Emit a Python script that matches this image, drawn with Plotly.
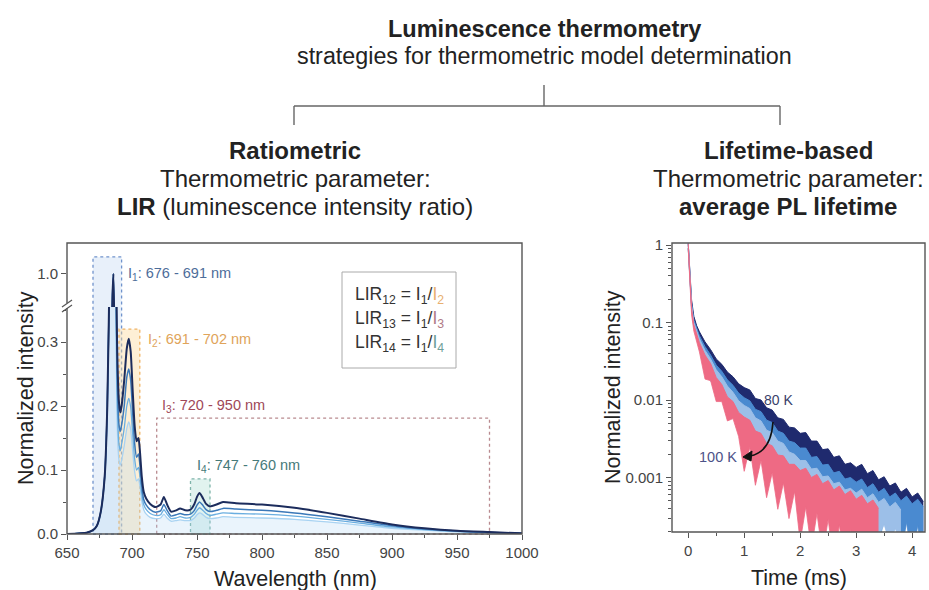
import numpy as np
import plotly.graph_objects as go

W, H = 929, 590
FONT = "Liberation Sans, Arial, sans-serif"

# ---------------- emission spectra (normalized) ----------------
wavelength = [650, 665, 670, 673, 676, 679, 681, 683, 684, 685, 685.7, 686.5, 687.5, 688.5, 690, 691,
              692, 694, 696, 697.5, 699, 700.5, 702, 703.5, 705, 706, 707.5, 709, 711, 714, 718, 722,
              724.5, 727, 730, 734, 737, 741, 745, 748, 750, 752, 754, 757, 760, 765, 770, 780, 800,
              825, 850, 875, 900, 925, 950, 975, 1000]
spec_a = [0.0, 0.002, 0.006, 0.013, 0.035, 0.09, 0.2, 0.45, 0.7, 0.93,
          1.0, 0.82, 0.5, 0.3, 0.205, 0.19, 0.2, 0.24, 0.29, 0.305,
          0.285, 0.225, 0.17, 0.145, 0.15, 0.132, 0.09, 0.066, 0.055, 0.047,
          0.042, 0.046, 0.058, 0.046, 0.035, 0.037, 0.04, 0.037, 0.038, 0.047,
          0.058, 0.064, 0.058, 0.047, 0.043, 0.046, 0.05, 0.048, 0.046, 0.041,
          0.033, 0.024, 0.015, 0.009, 0.005, 0.003, 0.001]
spec_b = [0.0, 0.002, 0.006, 0.013, 0.035, 0.09, 0.2, 0.45, 0.7, 0.93,
          1.0, 0.8, 0.46, 0.26, 0.17, 0.16, 0.17, 0.2, 0.245, 0.258,
          0.24, 0.19, 0.142, 0.12, 0.125, 0.11, 0.075, 0.054, 0.045, 0.038,
          0.034, 0.036, 0.046, 0.037, 0.028, 0.03, 0.032, 0.03, 0.031, 0.037,
          0.045, 0.05, 0.046, 0.038, 0.035, 0.037, 0.04, 0.039, 0.037, 0.033,
          0.027, 0.02, 0.013, 0.008, 0.0045, 0.0025, 0.001]
spec_c = [0.0, 0.002, 0.006, 0.013, 0.035, 0.09, 0.2, 0.45, 0.7, 0.93,
          1.0, 0.78, 0.42, 0.22, 0.14, 0.13, 0.14, 0.165, 0.2, 0.212,
          0.198, 0.157, 0.118, 0.1, 0.104, 0.092, 0.063, 0.046, 0.038, 0.032,
          0.029, 0.03, 0.038, 0.031, 0.024, 0.025, 0.027, 0.025, 0.026, 0.031,
          0.037, 0.041, 0.038, 0.032, 0.029, 0.031, 0.033, 0.032, 0.031, 0.028,
          0.023, 0.017, 0.011, 0.007, 0.004, 0.002, 0.001]
spec_d = [0.0, 0.002, 0.006, 0.013, 0.035, 0.09, 0.2, 0.45, 0.7, 0.93,
          1.0, 0.76, 0.38, 0.18, 0.115, 0.108, 0.115, 0.138, 0.165, 0.175,
          0.163, 0.13, 0.098, 0.083, 0.086, 0.076, 0.052, 0.038, 0.031, 0.026,
          0.024, 0.025, 0.031, 0.025, 0.02, 0.021, 0.022, 0.021, 0.021, 0.025,
          0.03, 0.033, 0.031, 0.026, 0.024, 0.025, 0.027, 0.026, 0.025, 0.023,
          0.019, 0.014, 0.009, 0.006, 0.0035, 0.002, 0.001]
spec_colors = ["#a9d3f2", "#6aaee0", "#3b78b8", "#1c2c5c"]

# integration windows
band_labels = ["I<sub>1</sub>: 676 - 691 nm", "I<sub>2</sub>: 691 - 702 nm",
               "I<sub>3</sub>: 720 - 950 nm", "I<sub>4</sub>: 747 - 760 nm"]
band_start = [670, 690, 719, 745]
band_end = [692, 706, 975, 760]
band_top = [1.055, 0.32, 0.181, 0.086]
band_line = ["#7093cc", "#f0b262", "#b98a8f", "#7fb4aa"]
band_fill = ["rgba(190,212,242,0.35)", "rgba(252,214,150,0.40)", "rgba(0,0,0,0)", "rgba(180,226,214,0.40)"]
band_text = ["#4d6d9a", "#e0a45a", "#a04858", "#467a7a"]

# ---------------- PL decays: noise envelopes, log10 of normalized intensity ----------------
t_ms = [0, 0.01, 0.03, 0.06, 0.1, 0.15, 0.2, 0.3, 0.4, 0.5, 0.6, 0.7, 0.8, 0.9, 1.0, 1.1, 1.2,
        1.3, 1.4, 1.5, 1.6, 1.7, 1.8, 1.9, 2.0, 2.1, 2.2, 2.3, 2.4, 2.5, 2.6, 2.7, 2.8, 2.9, 3.0,
        3.1, 3.2, 3.3, 3.4, 3.5, 3.6, 3.7, 3.8, 3.9, 4.0, 4.1, 4.2]
nv_hi = [0.02, -0.12, -0.42, -0.71, -0.92, -1.04, -1.12, -1.25, -1.35, -1.47, -1.54, -1.64, -1.70,
         -1.79, -1.84, -1.87, -1.98, -2.00, -2.10, -2.13, -2.23, -2.25, -2.35, -2.36, -2.43, -2.42,
         -2.53, -2.53, -2.64, -2.63, -2.74, -2.72, -2.83, -2.81, -2.87, -2.83, -2.95, -2.91, -3.03,
         -2.99, -3.11, -3.07, -3.19, -3.14, -3.25, -3.20, -3.31]
nv_lo = [-0.04, -0.19, -0.49, -0.78, -0.99, -1.11, -1.19, -1.38, -1.56, -1.60, -1.75, -1.77, -1.91,
         -1.92, -2.19, -2.10, -2.33, -2.23, -2.45, -2.36, -2.58, -2.48, -2.70, -2.59, -2.95, -2.76,
         -3.05, -2.87, -3.16, -2.97, -3.30, -3.00, -3.45, -3.09, -3.70, -3.17, -3.80, -3.25, -3.90,
         -3.33, -3.95, -3.41, -4.00, -3.48, -4.00, -3.54, -4.00]
bl_hi = [0.02, -0.13, -0.45, -0.75, -0.97, -1.08, -1.17, -1.31, -1.42, -1.55, -1.63, -1.74, -1.81,
         -1.91, -1.97, -2.01, -2.12, -2.15, -2.26, -2.29, -2.40, -2.43, -2.53, -2.55, -2.62, -2.62,
         -2.74, -2.73, -2.84, -2.83, -2.94, -2.92, -3.02, -3.00, -3.06, -3.02, -3.13, -3.08, -3.19,
         -3.14, -3.25, -3.20, -3.30, -3.24, -3.34, -3.28, -3.38]
bl_lo = [-0.04, -0.20, -0.52, -0.82, -1.04, -1.15, -1.24, -1.44, -1.57, -1.74, -1.78, -1.93, -1.96,
         -2.10, -2.32, -2.24, -2.47, -2.38, -2.61, -2.52, -2.75, -2.66, -2.88, -2.78, -3.14, -2.96,
         -3.26, -3.07, -3.36, -3.17, -3.46, -3.20, -3.54, -3.28, -3.80, -3.36, -3.90, -3.42, -3.95,
         -3.48, -4.00, -3.54, -4.00, -3.58, -4.05, -3.62, -4.07]
lb_hi = [0.02, -0.14, -0.47, -0.78, -1.00, -1.12, -1.21, -1.36, -1.47, -1.61, -1.70, -1.82, -1.90,
         -2.01, -2.07, -2.11, -2.23, -2.27, -2.39, -2.42, -2.53, -2.56, -2.67, -2.70, -2.78, -2.78,
         -2.89, -2.88, -2.99, -2.98, -3.08, -3.06, -3.16, -3.14, -3.20, -3.15, -3.26, -3.21, -3.32,
         -3.27, -3.38, -3.32, -3.42]
lb_lo = [-0.04, -0.21, -0.54, -0.85, -1.07, -1.19, -1.28, -1.51, -1.76, -1.76, -1.99, -1.97, -2.19,
         -2.16, -2.36, -2.32, -2.52, -2.48, -2.68, -2.63, -2.82, -2.77, -2.96, -2.91, -3.18, -3.06,
         -3.29, -3.16, -3.39, -3.26, -3.48, -3.34, -3.56, -3.42, -3.64, -3.49, -3.70, -3.55, -3.76,
         -3.61, -3.82, -3.66, -3.86]
pk_hi = [0.02, -0.15, -0.50, -0.82, -1.03, -1.16, -1.26, -1.42, -1.53, -1.71, -1.80, -1.96, -2.02,
         -2.16, -2.22, -2.26, -2.40, -2.43, -2.56, -2.59, -2.71, -2.72, -2.83, -2.83, -2.91, -2.88,
         -3.00, -2.96, -3.08, -3.04, -3.16, -3.11, -3.22, -3.17, -3.28, -3.23, -3.34, -3.29, -3.40]
pk_lo = [-0.05, -0.23, -0.58, -0.90, -1.11, -1.25, -1.38, -1.73, -1.75, -2.02, -2.02, -2.27, -2.24,
         -2.47, -2.92, -2.61, -3.10, -2.78, -3.26, -2.94, -3.41, -3.07, -3.53, -3.18, -3.83, -3.38,
         -3.92, -3.46, -4.0, -3.54, -4.08, -3.61, -4.14, -3.67, -4.2, -3.73, -4.26, -3.79, -4.32]
# drawn back to front
decays = [(nv_hi, nv_lo, "#1f2a6e"), (bl_hi, bl_lo, "#4a8ad0"),
          (lb_hi, lb_lo, "#9cbfe8"), (pk_hi, pk_lo, "#ee6a84")]

# ---------------- geometry helpers (pixel -> paper) ----------------
def px(x):
    return x / W


def py(y):
    return 1 - y / H


LX = (px(67), px(522))
LY_LOW = (py(534), py(307))
LY_UP = (py(307), py(243))
RX = (px(672), px(925))
RY = (py(532), py(243))
LOW_RANGE = [0, 0.3547]
UP_RANGE = [0.893, 1.1]


def y_low(v):
    return LY_LOW[0] + (v - LOW_RANGE[0]) / (LOW_RANGE[1] - LOW_RANGE[0]) * (LY_LOW[1] - LY_LOW[0])


def y_up(v):
    return LY_UP[0] + (v - UP_RANGE[0]) / (UP_RANGE[1] - UP_RANGE[0]) * (LY_UP[1] - LY_UP[0])


fig = go.Figure()

# spectra drawn on both halves of the broken axis
for vals, col, wdt in zip([spec_d, spec_c, spec_b, spec_a], spec_colors, [1.3, 1.3, 1.5, 2.0]):
    for ya in ["y", "y2"]:
        fig.add_trace(go.Scatter(
            x=wavelength, y=vals, xaxis="x", yaxis=ya, mode="lines",
            line=dict(color=col, width=wdt, shape="spline", smoothing=0.5),
            fill="tozeroy" if (vals is spec_d and ya == "y") else None,
            fillcolor="rgba(170,212,242,0.25)",
            showlegend=False, hoverinfo="skip"))

# decay envelopes
for hi, lo, col in decays:
    n = len(hi)
    fig.add_trace(go.Scatter(x=t_ms[:n], y=[10 ** v for v in lo], xaxis="x2", yaxis="y3",
                             mode="lines", line=dict(color=col, width=0.8),
                             showlegend=False, hoverinfo="skip"))
    fig.add_trace(go.Scatter(x=t_ms[:n], y=[10 ** v for v in hi], xaxis="x2", yaxis="y3",
                             mode="lines", line=dict(color=col, width=1.0),
                             fill="tonexty", fillcolor=col,
                             showlegend=False, hoverinfo="skip"))

tickfont = dict(family=FONT, size=15, color="#444")
axcol = "#555"

shapes = []
annotations = []


def note(x, y, text, size, color="#222", angle=0, xanchor="center"):
    annotations.append(dict(x=px(x), y=py(y), xref="paper", yref="paper", text=text, showarrow=False,
                            xanchor=xanchor, yanchor="middle", textangle=angle,
                            font=dict(family=FONT, size=size, color=color)))


# integration window boxes
for i in range(4):
    top = y_up(band_top[i]) if band_top[i] > LOW_RANGE[1] else y_low(band_top[i])
    shapes.append(dict(type="rect", xref="x", yref="paper", x0=band_start[i], x1=band_end[i],
                       y0=y_low(0), y1=top, line=dict(color=band_line[i], width=1.3, dash="dot"),
                       fillcolor=band_fill[i], layer="below"))

# band labels
label_pos = [(695.5, "y2", 1.0), (711, "y", 0.303), (721.5, "y", 0.2), (748.5, "y", 0.106)]
for (xv, yr, yv), txt, col in zip(label_pos, band_labels, band_text):
    annotations.append(dict(x=xv, y=yv, xref="x", yref=yr, text=txt, showarrow=False,
                            xanchor="left", yanchor="middle",
                            font=dict(family=FONT, size=14.5, color=col)))

# frames
shapes.append(dict(type="rect", xref="paper", yref="paper", x0=LX[0], x1=LX[1], y0=LY_LOW[0], y1=LY_UP[1],
                   line=dict(color=axcol, width=1.4)))
shapes.append(dict(type="rect", xref="paper", yref="paper", x0=RX[0], x1=RX[1], y0=RY[0], y1=RY[1],
                   line=dict(color=axcol, width=1.4)))

# axis break marks
shapes.append(dict(type="rect", xref="paper", yref="paper", x0=px(63), x1=px(71), y0=py(308), y1=py(303),
                   line=dict(width=0), fillcolor="white"))
for dy in (0, 5):
    shapes.append(dict(type="line", xref="paper", yref="paper", x0=px(62), y0=py(307 + dy),
                       x1=px(72), y1=py(300 + dy), line=dict(color=axcol, width=1.2)))

# LIR definition box
shapes.append(dict(type="rect", xref="paper", yref="paper", x0=px(342), x1=px(456), y0=py(368), y1=py(272),
                   line=dict(color="#aaaaaa", width=1), fillcolor="white"))
lir_lines = [
    "LIR<sub>12</sub> = I<sub>1</sub>/<span style='color:#e8b070'>I<sub>2</sub></span>",
    "LIR<sub>13</sub> = I<sub>1</sub>/<span style='color:#b07a86'>I<sub>3</sub></span>",
    "LIR<sub>14</sub> = I<sub>1</sub>/<span style='color:#6f9f9a'>I<sub>4</sub></span>",
]
for txt, yy in zip(lir_lines, [295, 319, 343]):
    note(399, yy, txt, 17.5, "#333")

# temperature labels and curved arrow
note(778, 400, "80 K", 14, "#3a3f6a")
note(718, 457, "100 K", 14.5, "#4d5288")
shapes.append(dict(type="path", xref="paper", yref="paper",
                   path=f"M {px(773)},{py(422)} Q {px(771)},{py(452)} {px(750)},{py(456)}",
                   line=dict(color="#111", width=1.6)))
shapes.append(dict(type="path", xref="paper", yref="paper",
                   path=f"M {px(743)},{py(457)} L {px(752)},{py(451)} L {px(751)},{py(461)} Z",
                   line=dict(color="#111", width=1), fillcolor="#111"))

# axis titles
note(26, 388, "Normalized intensity", 21.5, angle=-90)
note(295, 579, "Wavelength (nm)", 21.5)
note(613, 387, "Normalized intensity", 21.5, angle=-90)
note(799, 578, "Time (ms)", 21.5)

# headings and tree
for txt, x, y, sz in [("<b>Luminescence thermometry</b>", 544, 29, 23.5),
                      ("strategies for thermometric model determination", 544, 56, 23.3),
                      ("<b>Ratiometric</b>", 295, 150, 24),
                      ("Thermometric parameter:", 295, 178, 24),
                      ("<b>LIR</b> (luminescence intensity ratio)", 295, 206, 24),
                      ("<b>Lifetime-based</b>", 788, 150, 24),
                      ("Thermometric parameter:", 788, 178, 24),
                      ("<b>average PL lifetime</b>", 788, 206, 24)]:
    note(x, y, txt, sz)
tree = dict(color="#666", width=1.4)
for x0, y0, x1, y1 in [(544, 85, 544, 106), (294, 106, 780, 106), (294, 106, 294, 125), (780, 106, 780, 125)]:
    shapes.append(dict(type="line", xref="paper", yref="paper", x0=px(x0), y0=py(y0), x1=px(x1), y1=py(y1),
                       line=tree))

common_ax = dict(showgrid=False, zeroline=False, showline=False, ticks="outside", ticklen=5,
                 tickwidth=1.2, tickcolor=axcol, tickfont=tickfont, automargin=False)

fig.update_layout(
    width=W, height=H, margin=dict(l=0, r=0, t=0, b=0),
    paper_bgcolor="white", plot_bgcolor="rgba(0,0,0,0)",
    xaxis=dict(domain=list(LX), range=[650, 1000], anchor="y",
               tickvals=[650, 700, 750, 800, 850, 900, 950, 1000],
               minor=dict(ticks="outside", ticklen=3, dtick=25, tick0=650, tickcolor=axcol),
               **common_ax),
    yaxis=dict(domain=list(LY_LOW), range=LOW_RANGE, anchor="x",
               tickvals=[0, 0.1, 0.2, 0.3], ticktext=["0.0", "0.1", "0.2", "0.3"],
               minor=dict(ticks="outside", ticklen=3, dtick=0.05, tick0=0, tickcolor=axcol),
               **common_ax),
    yaxis2=dict(domain=list(LY_UP), range=UP_RANGE, anchor="x",
                tickvals=[1.0], ticktext=["1.0"], **common_ax),
    xaxis2=dict(domain=list(RX), range=[-0.29, 4.23], anchor="y3",
                tickvals=[0, 1, 2, 3, 4],
                minor=dict(ticks="outside", ticklen=3, dtick=0.5, tick0=0, tickcolor=axcol),
                **common_ax),
    yaxis3=dict(domain=list(RY), type="log", range=[-3.703, 0.026], anchor="x2",
                tickvals=[1, 0.1, 0.01, 0.001], ticktext=["1", "0.1", "0.01", "0.001"],
                minor=dict(ticks="outside", ticklen=3, dtick="D1", tickcolor=axcol),
                **common_ax),
    shapes=shapes,
    annotations=annotations,
)

fig.write_html("out.html")
